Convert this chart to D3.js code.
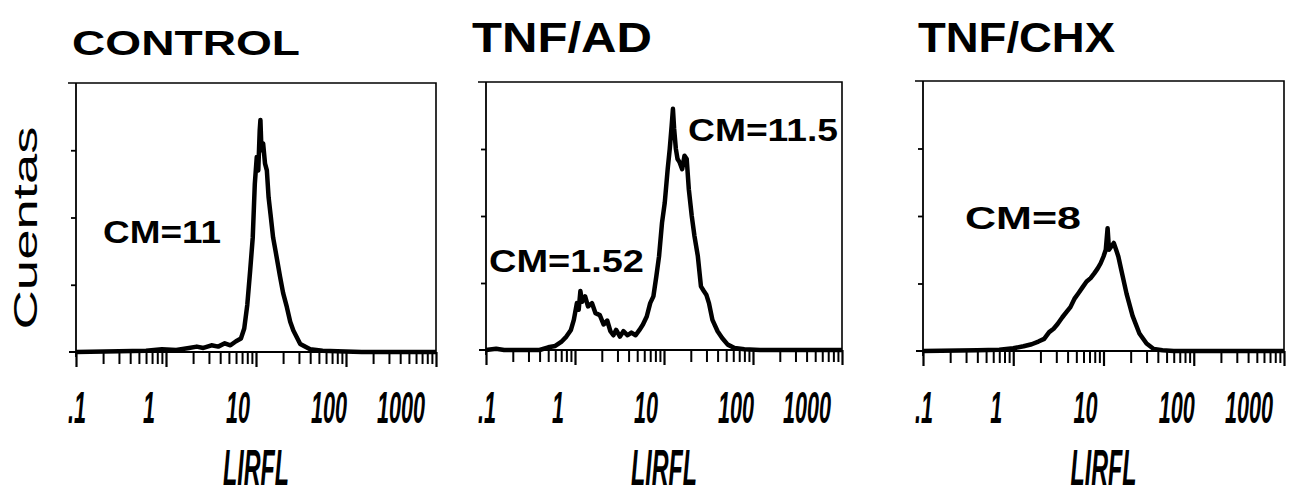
<!DOCTYPE html>
<html>
<head>
<meta charset="utf-8">
<script src="https://cdn.jsdelivr.net/npm/d3@7"></script>
<style>
  body { margin: 0; background: #fff; }
  svg { display: block; }
  text { font-family: "Liberation Sans", Arial, sans-serif; fill: #000; }
  .title { font-weight: bold; }
  .cm { font-weight: bold; font-size: 32px; }
  .tick-label { font-style: italic; font-weight: bold; font-size: 45px; }
  .axis-title { font-style: italic; font-weight: bold; font-size: 50px; }
  .ylab { font-size: 33px; }
</style>
</head>
<body>
<div id="chart"></div>
<script>
// panels
const panelTitles = ["CONTROL", "TNF/AD", "TNF/CHX"];
const cmLabels = [["CM=11"], ["CM=1.52", "CM=11.5"], ["CM=8"]];
const xTickValues = [0.1, 1, 10, 100, 1000];
const xTickLabels = [".1", "1", "10", "100", "1000"];
const yTickValues = [100, 200, 300];

// histograms: LIRFL channel (log) and counts
const controlLirfl = [0.1, 0.3, 0.6, 0.9, 1.3, 1.8, 2.2, 2.6, 3.2, 3.8, 4.5, 5.2, 6.0, 6.8, 7.4, 8.0, 8.6, 9.2, 9.7, 10.2, 10.6, 11.0, 11.2, 11.5, 12.0, 12.6, 13.2, 13.8, 14.5, 15.5, 16.5, 18.5, 20, 22, 24, 26, 31, 40, 55, 80, 150, 1000];
const controlCounts = [0, 1, 2, 4, 3, 6, 8, 6, 10, 8, 13, 10, 16, 20, 35, 70, 120, 170, 250, 290, 270, 330, 345, 300, 310, 280, 270, 230, 205, 170, 150, 112, 88, 67, 45, 32, 12, 4, 2, 1, 0, 0];

const adLirfl = [0.1, 0.13, 0.16, 0.4, 0.5, 0.6, 0.7, 0.8, 0.9, 0.97, 1.05, 1.1, 1.15, 1.2, 1.3, 1.4, 1.55, 1.7, 1.9, 2.1, 2.3, 2.5, 2.7, 2.9, 3.2, 3.5, 3.9, 4.3, 4.8, 5.3, 5.8, 6.4, 7.0, 7.6, 8.2, 8.8, 9.5, 10.2, 11, 11.6, 12.2, 12.6, 13, 13.6, 14.2, 15, 16, 17, 18, 19, 20.5, 22, 24, 26, 28, 30, 32, 35, 40, 45, 52, 62, 80, 120, 1000];
const adCounts = [0, 2, 0, 0, 4, 6, 12, 20, 30, 45, 70, 60, 88, 72, 80, 65, 70, 55, 52, 38, 44, 28, 22, 30, 20, 28, 22, 26, 22, 30, 38, 50, 70, 80, 110, 140, 190, 220, 270, 300, 335, 360, 330, 300, 285, 280, 270, 290, 285, 240, 200, 170, 140, 95, 88, 82, 70, 45, 28, 18, 8, 3, 1, 0, 0];

const chxLirfl = [0.1, 0.4, 0.7, 1.0, 1.3, 1.6, 1.9, 2.2, 2.5, 2.8, 3.1, 3.5, 3.9, 4.3, 4.8, 5.3, 5.9, 6.5, 7.2, 7.9, 8.6, 9.3, 10, 10.6, 11.1, 11.5, 12.2, 13, 13.8, 14.6, 15.5, 18, 21, 25, 30, 36, 45, 60, 1000];
const chxCounts = [0, 1, 2, 4, 7, 10, 14, 18, 28, 33, 40, 50, 58, 65, 78, 86, 95, 103, 108, 115, 122, 130, 140, 150, 182, 150, 155, 160, 150, 140, 124, 85, 52, 26, 11, 3, 1, 0, 0];

const series = [
  { x: controlLirfl, y: controlCounts },
  { x: adLirfl, y: adCounts },
  { x: chxLirfl, y: chxCounts }
];

// layout
const width = 1292, height = 496;
const frames = [
  { left: 76, right: 436, top: 83, bottom: 352 },
  { left: 486, right: 842, top: 82, bottom: 350 },
  { left: 923, right: 1284, top: 81, bottom: 351 }
];
// [x, baseline, width, font size]
const titlePos = [[72, 55, 228, 35], [472, 52, 180, 42], [918, 52, 197, 42]];
const cmPos = [[[103, 243, 118]], [[489, 272, 155], [688, 141, 150]], [[965, 229, 116]]];
const labelNudge = [1, -17, -18, -17, -35];

const svg = d3.select("#chart").append("svg")
  .attr("width", width)
  .attr("height", height);

svg.append("rect").attr("width", width).attr("height", height).attr("fill", "#fff");

// squeeze or stretch a text horizontally to a given width, around (cx, y)
function fitText(sel, cx, y, targetW) {
  const w = sel.node().getComputedTextLength();
  sel.attr("x", 0).attr("y", 0)
    .attr("text-anchor", "middle")
    .attr("transform", `translate(${cx},${y}) scale(${targetW / w},1)`);
}

// y label
svg.append("text")
  .attr("class", "ylab")
  .call(s => s.text("Cuentas"))
  .each(function() {
    const w = this.getComputedTextLength();
    d3.select(this)
      .attr("text-anchor", "middle")
      .attr("transform", `translate(37,228) rotate(-90) scale(${203 / w},1)`);
  });

frames.forEach((f, i) => {
  const x = d3.scaleLog().domain([0.1, 1000]).range([f.left, f.right]);
  const y = d3.scaleLinear().domain([0, 400]).range([f.bottom, f.top]);
  const g = svg.append("g");

  // title
  const tp = titlePos[i];
  const title = svg.append("text")
    .attr("class", "title")
    .style("font-size", tp[3] + "px")
    .text(panelTitles[i]);
  fitText(title, tp[0] + tp[2] / 2, tp[1], tp[2]);

  // frame: top and right
  g.append("path")
    .attr("d", `M${f.left - 8},${f.top}H${f.right}V${f.bottom}`)
    .attr("fill", "none")
    .attr("stroke", "#000")
    .attr("stroke-width", 1.6);

  // y axis
  const yAxisG = g.append("g")
    .attr("transform", `translate(${f.left},0)`)
    .call(d3.axisLeft(y).tickValues(yTickValues).tickSize(5).tickFormat(""));
  yAxisG.select(".domain").attr("d", `M0,${f.bottom + 5}V${f.top}`);
  yAxisG.selectAll("path, line").attr("stroke", "#000").attr("stroke-width", 1.8);

  // x axis with log minor ticks
  const minor = [];
  for (let d = 0.1; d < 1000; d *= 10) {
    for (let k = 2; k <= 9; k++) minor.push(+(d * k).toPrecision(3));
  }
  const xAxisG = g.append("g")
    .attr("transform", `translate(0,${f.bottom})`)
    .call(d3.axisBottom(x).tickValues(minor).tickSize(12).tickSizeOuter(0).tickFormat(""));
  xAxisG.select(".domain").attr("d", `M${f.left - 7},0H${f.right}`);
  xAxisG.selectAll("path, line").attr("stroke", "#000").attr("stroke-width", 2);

  const majorG = g.append("g")
    .attr("transform", `translate(0,${f.bottom})`)
    .call(d3.axisBottom(x).tickValues(xTickValues).tickSize(15).tickFormat(""));
  majorG.select(".domain").remove();
  majorG.selectAll("line").attr("stroke", "#000").attr("stroke-width", 2.2);

  // tick labels
  xTickValues.forEach((v, j) => {
    const t = svg.append("text")
      .attr("class", "tick-label")
      .text(xTickLabels[j]);
    const w = t.node().getComputedTextLength();
    fitText(t, x(v) + labelNudge[j], 423, w * 0.48);
  });

  // x title
  const xt = svg.append("text")
    .attr("class", "axis-title")
    .text("LIRFL");
  fitText(xt, (f.left + f.right) / 2, 485, 66);

  // histogram
  const s = series[i];
  const pts = s.x.map((v, k) => [v, s.y[k]]);
  const line = d3.line().x(d => x(d[0])).y(d => y(d[1]));
  g.append("path")
    .datum(pts)
    .attr("d", line)
    .attr("fill", "none")
    .attr("stroke", "#000")
    .attr("stroke-width", 4.5)
    .attr("stroke-linejoin", "round");

  // CM labels
  cmLabels[i].forEach((lab, j) => {
    const c = cmPos[i][j];
    const t = svg.append("text")
      .attr("class", "cm")
      .text(lab);
    fitText(t, c[0] + c[2] / 2, c[1], c[2]);
  });
});
</script>
</body>
</html>
